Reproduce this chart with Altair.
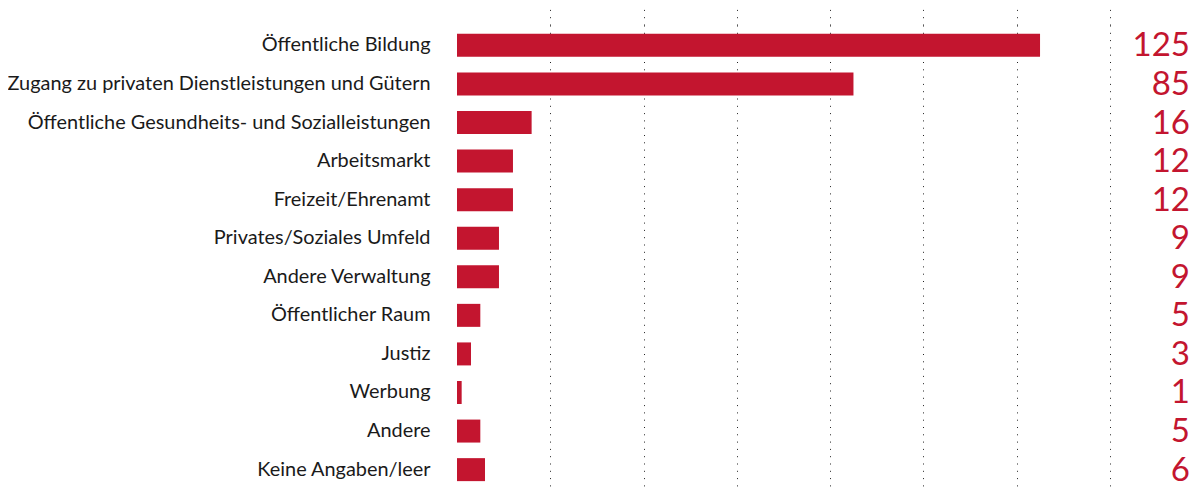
import altair as alt
import pandas as pd

categories = [
    "Öffentliche Bildung",
    "Zugang zu privaten Dienstleistungen und Gütern",
    "Öffentliche Gesundheits- und Sozialleistungen",
    "Arbeitsmarkt",
    "Freizeit/Ehrenamt",
    "Privates/Soziales Umfeld",
    "Andere Verwaltung",
    "Öffentlicher Raum",
    "Justiz",
    "Werbung",
    "Andere",
    "Keine Angaben/leer",
]
values = [125, 85, 16, 12, 12, 9, 9, 5, 3, 1, 5, 6]
grid_values = [20, 40, 60, 80, 100, 120, 140]

df = pd.DataFrame({"cat": categories, "val": values})

RED = "#C3152F"
FONT = "Lato"
W, H = 653, 465

x = alt.X(
    "val:Q",
    scale=alt.Scale(domain=[0, 140], nice=False),
    axis=alt.Axis(
        orient="top",
        values=grid_values,
        grid=True,
        gridDash=[1, 6.3],
        gridColor="#222",
        gridWidth=1,
        ticks=True,
        tickDash=[1, 6.3],
        tickColor="#222",
        tickSize=17,
        labels=False,
        domain=False,
        title=None,
    ),
)
y = alt.Y(
    "cat:N",
    sort=categories,
    scale=alt.Scale(paddingInner=0.404, paddingOuter=0.23),
    axis=alt.Axis(
        title=None,
        ticks=False,
        domain=False,
        labelPadding=27,
        labelFontSize=19.9,
        labelFont=FONT,
        labelColor="#1a1a1a",
        labelLimit=600,
    ),
)

bars = alt.Chart(df).mark_bar(color=RED).encode(x=x, y=y)
nums = alt.Chart(df).mark_text(
    align="right", baseline="middle", fontSize=33, font=FONT, color=RED, dy=1
).encode(y=alt.Y("cat:N", sort=categories), x=alt.value(733), text="val:Q")

chart = (
    alt.layer(bars, nums)
    .properties(
        width=W,
        height=H,
        autosize=alt.AutoSizeParams(type="none"),
        padding={"left": 449, "top": 17, "right": 80, "bottom": 10},
    )
    .configure_view(stroke=None)
)

chart.save("out.html", embed_options={"renderer": "svg", "actions": False})
